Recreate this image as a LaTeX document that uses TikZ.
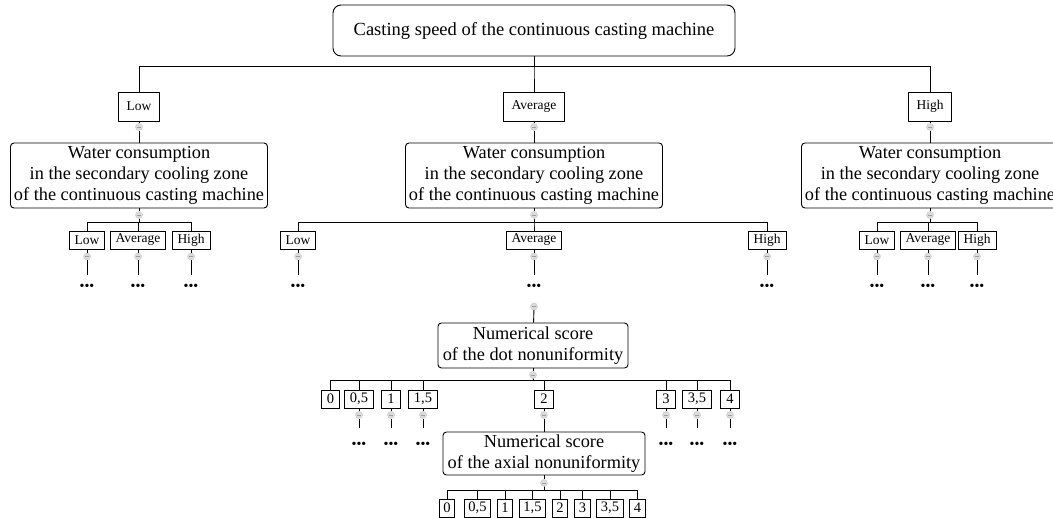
\documentclass[tikz,border=0pt]{standalone}
\usepackage{fontspec}
\setmainfont{Liberation Serif}

\begin{document}
\begin{tikzpicture}[x=1pt,y=-1pt,line width=0.9pt,
  head/.style={draw,rounded corners=8pt,inner sep=0pt,minimum width=402,minimum height=51,
    font=\fontsize{18.5}{21}\selectfont},
  big/.style={draw,rounded corners=3.5pt,inner sep=0pt,align=center,
    font=\fontsize{18.3}{21}\selectfont},
  water/.style={big,minimum width=257,minimum height=65},
  lvl/.style={draw,inner xsep=8pt,inner ysep=0pt,minimum height=29,font=\fontsize{13.5}{14}\selectfont},
  sub/.style={draw,inner xsep=5.5pt,inner ysep=0pt,minimum height=18,font=\fontsize{13.5}{14}\selectfont},
  num/.style={draw,inner xsep=5.5pt,inner ysep=0pt,minimum height=18,font=\fontsize{14.5}{15}\selectfont},
  more/.style={inner sep=0pt,font=\fontsize{14}{14}\selectfont},
  btn/.style={circle,fill=gray!28,draw=gray!40,line width=0.5pt,minimum size=7pt,inner sep=0pt,
    path picture={\draw[gray!75,line width=0.5pt]
      ([xshift=-1.8pt]path picture bounding box.center) -- ([xshift=1.8pt]path picture bounding box.center);}}]
  \useasboundingbox (0,0) rectangle (1053,518);

  \node[head] (speed) at (534,30.5) {Casting speed of the continuous casting machine};

  % first level: casting speed
  \foreach \n/\x/\t in {low/139/Low,avg/534/Average,high/930/High}{
    \node[lvl] (\n) at (\x,106.5) {\t};
    \draw (speed.south) -- ++(0,10) -| (\n.north);
    \node[btn] (b-\n) at (\x,127) {};
    \draw (\n) -- (b-\n);
    \node[water] (w-\n) at (\x,175.5) {Water consumption\\in the secondary cooling zone\\of the continuous casting machine};
    \draw (b-\n) -- (w-\n);
    \node[btn] (bw-\n) at (\x,215) {};
    \draw (w-\n) -- (bw-\n);
  }

  % second level: water consumption
  \foreach \p/\x/\n/\t in {low/87/ll/Low,low/138/la/Average,low/191/lh/High,
      avg/298/ml/Low,avg/534/ma/Average,avg/767/mh/High,
      high/877/hl/Low,high/928/ha/Average,high/977/hh/High}{
    \node[sub] (\n) at (\x,240) {\t};
    \draw (bw-\p.south) -- ++(0,3.5) -| (\n.north);
    \node[btn] (b-\n) at (\x,256.5) {};
    \draw (\n) -- (b-\n);
    \node[more] (d-\n) at (\x,287) {•••};
    \draw[shorten >=8pt] (b-\n) -- (d-\n);
  }

  % third level: dot nonuniformity
  \node[btn] (b-more) at (534,306.5) {};
  \node[big,minimum width=190,minimum height=45] (dot) at (533,345.5)
    {Numerical score\\of the dot nonuniformity};
  \draw (b-more) -- (dot);
  \node[btn] (b-dot) at (533,375) {};
  \draw (dot) -- (b-dot);
  \foreach \n/\x/\t in {d0/330.5/0,d05/359/{0,5},d1/391/1,d15/423/{1,5},
      d2/544/2,d3/666/3,d35/697/{3,5},d4/730/4}{
    \node[num] (\n) at (\x,399) {\t};
    \draw (b-dot.south) -- ++(0,1.5) -| (\n.north);
  }
  \foreach \n in {d05,d1,d15,d3,d35,d4}{
    \node[btn] (b-\n) at ([yshift=-16pt]\n.center) {};
    \draw (\n) -- (b-\n);
    \node[more] (m-\n) at ([yshift=-46pt]\n.center) {•••};
    \draw[shorten >=13pt] (b-\n) -- (m-\n);
  }

  % fourth level: axial nonuniformity
  \node[btn] (b-d2) at (544,415) {};
  \draw (d2) -- (b-d2);
  \node[big,minimum width=202,minimum height=43] (axial) at (544,453.5)
    {Numerical score\\of the axial nonuniformity};
  \draw (b-d2) -- (axial);
  \node[btn] (b-axial) at (544,483) {};
  \draw (axial) -- (b-axial);
  \foreach \n/\x/\t in {a0/447/0,a05/477.5/{0,5},a1/505/1,a15/532.5/{1,5},
      a2/560/2,a3/582.5/3,a35/610/{3,5},a4/637.5/4}{
    \node[num,inner xsep=4.3pt] (\n) at (\x,508) {\t};
    \draw (b-axial.south) -- ++(0,3.5) -| (\n.north);
  }
\end{tikzpicture}
\end{document}
